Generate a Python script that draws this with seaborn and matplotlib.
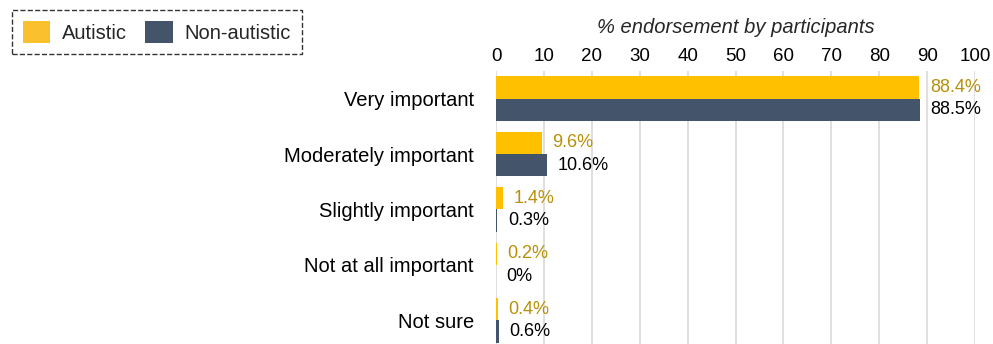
import matplotlib
matplotlib.use("Agg")
import matplotlib.pyplot as plt
import seaborn as sns
import pandas as pd

categories = ["Very important", "Moderately important", "Slightly important",
              "Not at all important", "Not sure"]
autistic = [88.4, 9.6, 1.4, 0.2, 0.4]
non_autistic = [88.5, 10.6, 0.3, 0.0, 0.6]
autistic_labels = ["88.4%", "9.6%", "1.4%", "0.2%", "0.4%"]
non_autistic_labels = ["88.5%", "10.6%", "0.3%", "0%", "0.6%"]
groups = ["Autistic", "Non-autistic"]

df = pd.DataFrame({
    "category": categories * 2,
    "value": autistic + non_autistic,
    "group": [groups[0]] * len(categories) + [groups[1]] * len(categories),
})

sns.set_theme(style="white")
plt.rcParams["font.family"] = ["Liberation Sans", "DejaVu Sans"]

colors = {"Autistic": "#FFC000", "Non-autistic": "#44546A"}
legend_colors = {"Autistic": "#FBC02D", "Non-autistic": "#44546A"}
label_colors = ["#B8900A", "#000000"]

fig = plt.figure(figsize=(9.93, 3.44), dpi=100)
ax = fig.add_axes([0.4995, -0.012, 0.4824, 0.806])

sns.barplot(data=df, y="category", x="value", hue="group", order=categories,
            hue_order=groups, palette=colors, orient="h", width=0.8,
            saturation=1, linewidth=0, ax=ax, legend=False)

ax.set_xlim(0, 100)
ax.set_ylim(4.5, -0.5)
ax.set_xticks(range(0, 101, 10))
ax.xaxis.tick_top()
ax.tick_params(axis="x", length=0, pad=4, labelsize=13.5, colors="#000000")
ax.tick_params(axis="y", length=0, pad=16, labelsize=14.5, colors="#000000")
ax.grid(axis="x", color="#D9D9D9", linewidth=1.2)
ax.set_axisbelow(True)
for s in ax.spines.values():
    s.set_visible(False)
ax.set_ylabel("")
ax.set_xlabel("")
ax.set_title("% endorsement by participants", fontsize=14.5, style="italic",
             pad=11)

for container, labels, c in zip(ax.containers, [autistic_labels, non_autistic_labels], label_colors):
    ax.bar_label(container, labels=labels, padding=7.5, fontsize=13, color=c)

from matplotlib.patches import Patch
handles = [Patch(facecolor=legend_colors[g], edgecolor="none") for g in groups]
leg = fig.legend(handles, groups, loc="upper left", bbox_to_anchor=(0.012, 0.972),
                 ncol=2, fontsize=14.5, frameon=True, fancybox=False,
                 handlelength=1.35, handleheight=1.35, handletextpad=0.6,
                 columnspacing=0.9, borderpad=0.55, borderaxespad=0)
fr = leg.get_frame()
fr.set_edgecolor("#000000")
fr.set_linestyle("--")
fr.set_linewidth(1.0)

fig.savefig("out.png", dpi=100)
